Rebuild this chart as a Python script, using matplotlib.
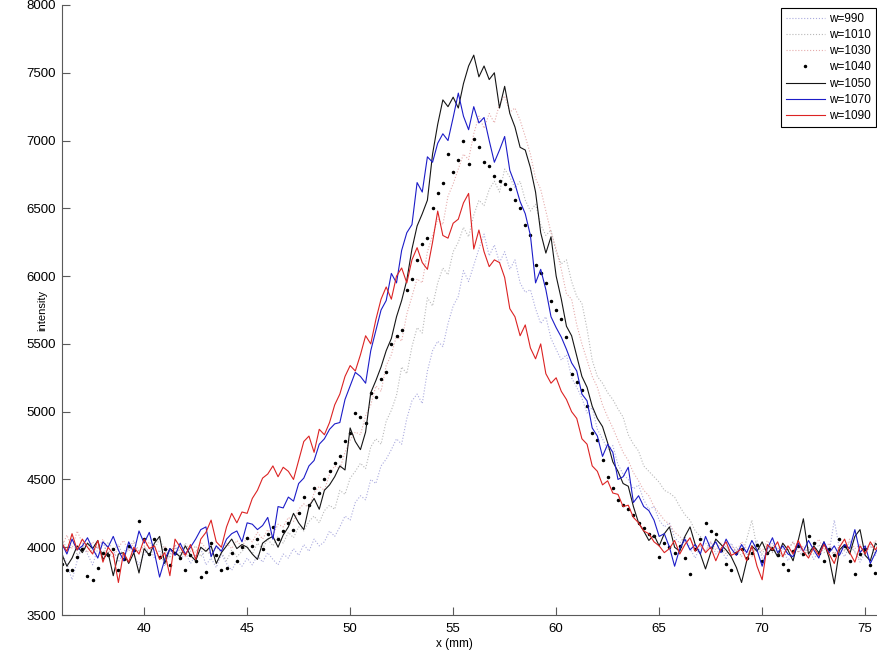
import numpy as np
import matplotlib
matplotlib.use("Agg")
import matplotlib.pyplot as plt

plt.rcParams['font.family'] = ['Liberation Sans', 'DejaVu Sans']

# sample positions along the scan (mm), 0.25 mm steps
x_mm = np.linspace(36, 76, 161)

labels = ['w=990', 'w=1010', 'w=1030', 'w=1040', 'w=1050', 'w=1070', 'w=1090']

w990 = [3960, 3880, 3760, 3900, 4010, 3950, 3870, 3990,
        4040, 3930, 3980, 3890, 3960, 4020, 3940, 3870,
        3950, 4000, 3920, 3980, 3860, 3950, 4010, 3900,
        3960, 3880, 3940, 3990, 3870, 3920, 3850, 3950,
        3880, 3830, 3900, 3860, 3920, 3870, 3940, 3890,
        3960, 3910, 3870, 3950, 3920, 3990, 3940, 4020,
        3970, 4060, 4010, 4040, 4120, 4080, 4150, 4230,
        4200, 4330, 4380, 4350, 4500, 4470, 4600, 4650,
        4720, 4800, 4760, 4950, 5080, 5130, 5060, 5300,
        5450, 5520, 5480, 5650, 5780, 5850, 6040, 5960,
        6080, 6200, 6310, 6150, 6230, 6100, 6180, 6050,
        6120, 5950, 5880, 5900, 5760, 5650, 5700, 5540,
        5460, 5380, 5420, 5250, 5180, 5100, 4990, 5030,
        4870, 4800, 4720, 4750, 4610, 4540, 4500, 4430,
        4460, 4350, 4280, 4300, 4200, 4150, 4180, 4070,
        4030, 4080, 3990, 3920, 4010, 3970, 4040, 3950,
        3990, 3910, 4030, 3960, 4010, 3940, 3980, 4050,
        3920, 3970, 4030, 3950, 3990, 3900, 3960, 4020,
        3940, 3990, 3910, 3970, 4030, 3960, 4200, 3990,
        3930, 4010, 3970, 3890, 3960, 4020, 3940, 3990,
        3960]

w1010 = [4060, 3990, 4080, 3940, 3990, 4030, 3960, 4010,
         3950, 4040, 3980, 4020, 3930, 3990, 4050, 3970,
         4010, 3940, 3990, 4060, 3980, 3920, 4000, 3960,
         4030, 3970, 4010, 3930, 3980, 3940, 4000, 3960,
         3900, 3980, 3930, 3970, 4010, 3950, 4030, 3990,
         4060, 4010, 4080, 4030, 4110, 4070, 4150, 4120,
         4190, 4230, 4180, 4270, 4310, 4280, 4420, 4390,
         4510, 4560, 4620, 4580, 4740, 4800, 4760, 4930,
         5010, 5120, 5330, 5280, 5480, 5620, 5580, 5840,
         5780, 5950, 6060, 6010, 6180, 6250, 6360, 6290,
         6450, 6560, 6520, 6640, 6700, 6620, 6790, 6730,
         6650, 6700, 6560, 6480, 6530, 6380, 6300, 6340,
         6180, 6090, 6120, 5960, 5850, 5800, 5610, 5380,
         5260, 5210, 5140, 5090, 5020, 4960, 4830, 4760,
         4710, 4600, 4560, 4520, 4480, 4420, 4400, 4370,
         4300, 4240, 4200, 4120, 4080, 4030, 3990, 4040,
         3960, 4010, 3940, 4000, 3930, 4060, 4200, 3990,
         3950, 4020, 3960, 4000, 3920, 3980, 4040, 3970,
         3930, 4000, 3950, 4020, 3960, 3990, 3940, 4010,
         3970, 4040, 3960, 3910, 3990, 4030, 3960, 4000,
         3970]

w1030 = [4000, 4090, 3990, 4120, 4030, 3960, 4040, 3990,
         4060, 3980, 3920, 4000, 4050, 3970, 4030, 3950,
         3990, 4040, 3980, 3920, 4010, 3960, 4020, 3970,
         3930, 4000, 3960, 4040, 3990, 3950, 4010, 3970,
         4030, 3990, 4050, 4000, 4080, 4040, 4110, 4060,
         4130, 4090, 4170, 4150, 4220, 4190, 4280, 4320,
         4290, 4400, 4450, 4420, 4540, 4600, 4580, 4700,
         4790, 4850, 4830, 4970, 5050, 5190, 5150, 5340,
         5420, 5560, 5520, 5720, 5850, 5980, 5950, 6180,
         6300, 6420, 6380, 6590, 6680, 6790, 6900, 6860,
         7050, 7180, 7090, 7200, 7130, 7270, 7330, 7210,
         7240, 7150, 7030, 6900, 6720, 6640, 6480, 6320,
         6200, 6050, 5870, 5830, 5640, 5500, 5380, 5260,
         5180, 5050, 4960, 4880, 4790, 4700, 4640, 4550,
         4490, 4420, 4380, 4300, 4250, 4200, 4170, 4110,
         4080, 4030, 4060, 3990, 4020, 3960, 4040, 3980,
         4030, 3950, 4010, 3970, 4040, 3990, 3930, 4020,
         3970, 4050, 3990, 3950, 4030, 3980, 4040, 3960,
         4010, 3940, 4000, 4060, 3980, 4030, 3950, 4010,
         3980, 4060, 3990, 4020, 3960, 4000, 4050, 3990,
         4030]

w1040 = [3880, 3830, 3830, 3930, 3990, 3790, 3760, 3850,
         3960, 3940, 3990, 3830, 3910, 4010, 3980, 4190,
         4060, 3950, 4060, 3930, 3990, 3870, 3960, 3920,
         3830, 3940, 3900, 3780, 3820, 4030, 3940, 3830,
         3850, 3960, 3900, 4000, 4070, 4010, 4060, 3990,
         4100, 4150, 4060, 4120, 4180, 4130, 4250, 4370,
         4310, 4440, 4400, 4500, 4560, 4620, 4670, 4780,
         4840, 4990, 4960, 4920, 5140, 5110, 5240, 5290,
         5500, 5560, 5600, 5900, 5980, 6120, 6240, 6280,
         6500, 6610, 6690, 6900, 6770, 6860, 7000, 6830,
         7010, 6950, 6840, 6810, 6740, 6700, 6680, 6640,
         6560, 6500, 6380, 6300, 6080, 6020, 5950, 5820,
         5750, 5680, 5550, 5280, 5220, 5160, 5040, 4840,
         4790, 4640, 4520, 4440, 4350, 4310, 4280, 4240,
         4180, 4140, 4100, 4080, 3930, 4030, 4000, 3960,
         4010, 3920, 3800, 3990, 4060, 4180, 4120, 4100,
         3980, 3880, 3830, 3960, 3990, 3920, 3960, 4020,
         3900, 3960, 3990, 3940, 3880, 3830, 3970, 4010,
         3950, 4080, 4030, 3960, 3900, 3990, 3940, 4060,
         4010, 3900, 3800, 3950, 3990, 3870, 3810, 3930,
         3980]

w1050 = [3950, 3860, 3920, 4010, 3960, 4030, 3990, 4050,
         3910, 3960, 3790, 3950, 3960, 3880, 3960, 3810,
         3990, 3940, 4030, 4080, 3880, 3990, 3960, 3930,
         4010, 3940, 3900, 4000, 3970, 4010, 3880, 3960,
         4010, 4060, 3990, 4020, 4000, 3950, 3910, 4030,
         4060, 4080, 4000, 4090, 4150, 4250, 4180, 4130,
         4300, 4360, 4280, 4420, 4460, 4520, 4600, 4570,
         4880, 4780, 4720, 4850, 5140, 5230, 5330, 5450,
         5540, 5700, 5820, 5970, 6200, 6370, 6460, 6560,
         6900, 7120, 7300, 7250, 7320, 7240, 7420, 7550,
         7630, 7470, 7550, 7450, 7500, 7240, 7400, 7200,
         7100, 6950, 6930, 6800, 6620, 6320, 6170, 6290,
         6000, 5830, 5630, 5560, 5410, 5260, 5180, 5040,
         4950, 4890, 4770, 4630, 4560, 4470, 4450, 4300,
         4180, 4120, 4050, 4090, 4010, 4100, 4150, 4000,
         3970, 4080, 4150, 4020, 3950, 3840, 3960, 4060,
         4020, 3980, 3930, 3850, 3740, 3900, 4010, 3970,
         4040, 3950, 4000, 3930, 4030, 3980, 3900, 4050,
         4210, 3950, 4010, 3960, 4040, 3920, 3730, 3980,
         4020, 3950, 4080, 4130, 3940, 3900, 4030, 3990,
         4010]

w1070 = [4030, 3950, 4060, 3980, 4010, 4070, 3990, 3920,
         4040, 4000, 4080, 3980, 3900, 4040, 3960, 4120,
         4030, 4110, 3960, 3780, 3910, 3990, 3940, 4030,
         3950, 4000, 4060, 4130, 4150, 3930, 4010, 3970,
         4060, 4100, 4120, 4040, 4180, 4170, 4130, 4160,
         4220, 4060, 4300, 4290, 4370, 4340, 4470, 4510,
         4600, 4640, 4760, 4800, 4870, 4910, 4920, 5090,
         5190, 5290, 5260, 5210, 5450, 5600, 5750, 5820,
         6020, 5950, 6190, 6320, 6380, 6690, 6620, 6880,
         6840, 6980, 7050, 7000, 7170, 7350, 7180, 7080,
         7250, 7130, 7170, 7000, 6840, 6930, 7030, 6780,
         6680, 6550, 6460, 6300, 5950, 6050, 5900, 5700,
         5620, 5550, 5460, 5360, 5300, 5130, 5080, 4880,
         4820, 4670, 4760, 4700, 4500, 4520, 4590, 4330,
         4380, 4300, 4270, 4200, 4080, 4100, 4000, 3860,
         3990, 4060, 3980, 4020, 3950, 4080, 3990, 4040,
         3960, 4060, 3990, 3940, 4020, 3960, 4050, 3980,
         3860, 3990, 4070, 3960, 4010, 3950, 3930, 4030,
         3970, 4050, 3980, 3920, 4040, 3960, 4010, 3940,
         4020, 3990, 4130, 3960, 4010, 3880, 3960, 4030,
         3990]

w1090 = [4030, 3970, 4100, 3980, 4060, 4000, 3950, 4050,
         3890, 4000, 3950, 3740, 3960, 3890, 4000, 3950,
         4060, 3990, 4010, 3910, 3960, 3790, 4060, 4000,
         3940, 4020, 3910, 4060, 4110, 4200, 4040, 4000,
         4150, 4250, 4180, 4260, 4250, 4360, 4420, 4510,
         4540, 4600, 4520, 4590, 4560, 4500, 4640, 4780,
         4820, 4700, 4870, 4830, 4920, 5050, 5130, 5260,
         5340, 5300, 5420, 5560, 5500, 5680, 5830, 5920,
         5830, 6000, 6060, 5950, 6120, 6210, 6100, 6050,
         6250, 6480, 6300, 6280, 6390, 6420, 6540, 6610,
         6200, 6340, 6180, 6070, 6120, 6100, 5990, 5760,
         5700, 5560, 5640, 5470, 5390, 5500, 5280, 5210,
         5250, 5150, 5090, 5000, 4950, 4800, 4760, 4600,
         4560, 4460, 4490, 4400, 4390, 4300, 4310, 4220,
         4180, 4120, 4100, 4040, 4010, 3960, 3990, 4050,
         3950, 4020, 4070, 3970, 4030, 3960, 4000, 3900,
         3990, 4040, 3940, 3960, 3990, 3900, 4010, 3860,
         3760, 4020, 3980, 4040, 3930, 4010, 3950, 4050,
         3970, 3920, 4000, 3940, 4020, 3950, 3880, 4000,
         4060, 3960, 3890, 4010, 3950, 4040, 3980, 4050,
         4000]

fig = plt.figure(figsize=(8.77, 6.57), dpi=100)
ax = fig.add_axes([0.0704, 0.0639, 0.9396, 0.9285])

dot_kw = dict(linestyle=':', linewidth=0.8, alpha=0.5)
ax.plot(x_mm, w990, color=(0.35, 0.35, 0.75), label=labels[0], **dot_kw)
ax.plot(x_mm, w1010, color=(0.45, 0.45, 0.45), label=labels[1], **dot_kw)
ax.plot(x_mm, w1030, color=(0.8, 0.35, 0.35), label=labels[2], **dot_kw)
ax.plot(x_mm, w1040, linestyle='none', marker='.', markersize=3,
        color='black', label=labels[3])
ax.plot(x_mm, w1050, color='#151515', linewidth=0.8, label=labels[4])
ax.plot(x_mm, w1070, color='#1c1cc8', linewidth=0.8, label=labels[5])
ax.plot(x_mm, w1090, color='#dc2323', linewidth=0.8, label=labels[6])

ax.set_xlim(36, 76)
ax.set_ylim(3500, 8000)
ax.set_xticks([40, 45, 50, 55, 60, 65, 70, 75])
ax.set_yticks(np.arange(3500, 8001, 500))

for side in ('top', 'right'):
    ax.spines[side].set_visible(False)
for side in ('left', 'bottom'):
    ax.spines[side].set_color('#5a5a5a')
    ax.spines[side].set_linewidth(0.8)
ax.tick_params(direction='in', length=5.5, width=0.8, color='#5a5a5a',
               labelsize=9.5, pad=4)
ax.tick_params(axis='x', pad=6)

ax.set_xlabel('x (mm)', fontsize=8.5)
ax.set_ylabel('intensity', fontsize=8)
ax.xaxis.set_label_coords(0.477, -0.037)
ax.yaxis.set_label_coords(-0.017, 0.5)

leg = ax.legend(loc='upper right', bbox_to_anchor=(876 / 877, 1 - 8 / 657),
                bbox_transform=fig.transFigure, borderaxespad=0,
                fontsize=8.5, handlelength=3.3, handletextpad=0.4,
                labelspacing=0.36, borderpad=0.4, numpoints=1,
                fancybox=False, framealpha=1)
leg.get_frame().set_edgecolor('black')
leg.get_frame().set_linewidth(0.8)

fig.savefig('out.png', dpi=100)
